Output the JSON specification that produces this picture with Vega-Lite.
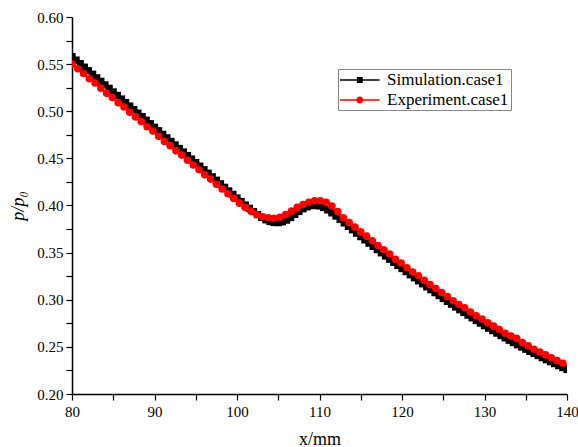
{
  "$schema": "https://vega.github.io/schema/vega-lite/v6.json",
  "width": 495,
  "height": 377,
  "autosize": {"type": "none"},
  "padding": {"left": 72, "top": 17, "right": 11, "bottom": 53},
  "background": "white",
  "config": {
    "view": {"stroke": null},
    "font": "Liberation Serif",
    "axis": {
      "domainColor": "black", "domainWidth": 1.5, "tickColor": "black", "tickWidth": 1.2, "tickSize": 6,
      "grid": false, "labelFont": "Liberation Serif", "labelFontSize": 15, "labelColor": "black",
      "titleFont": "Liberation Serif", "titleFontSize": 18, "titleColor": "black", "titleFontWeight": "normal"
    }
  },
  "datasets": {
    "sim": [
      {"x": 80, "y": 0.558}, {"x": 80.5, "y": 0.5543}, {"x": 81, "y": 0.5505}, {"x": 81.5, "y": 0.5468},
      {"x": 82, "y": 0.543}, {"x": 82.5, "y": 0.5393}, {"x": 83, "y": 0.5355}, {"x": 83.5, "y": 0.5318},
      {"x": 84, "y": 0.528}, {"x": 84.5, "y": 0.5243}, {"x": 85, "y": 0.5205}, {"x": 85.5, "y": 0.5168},
      {"x": 86, "y": 0.513}, {"x": 86.5, "y": 0.5093}, {"x": 87, "y": 0.5055}, {"x": 87.5, "y": 0.5018},
      {"x": 88, "y": 0.498}, {"x": 88.5, "y": 0.4943}, {"x": 89, "y": 0.4905}, {"x": 89.5, "y": 0.4868},
      {"x": 90, "y": 0.483}, {"x": 90.5, "y": 0.4793}, {"x": 91, "y": 0.4755}, {"x": 91.5, "y": 0.4718},
      {"x": 92, "y": 0.468}, {"x": 92.5, "y": 0.4643}, {"x": 93, "y": 0.4605}, {"x": 93.5, "y": 0.4568},
      {"x": 94, "y": 0.453}, {"x": 94.5, "y": 0.4493}, {"x": 95, "y": 0.4455}, {"x": 95.5, "y": 0.4418},
      {"x": 96, "y": 0.438}, {"x": 96.5, "y": 0.4343}, {"x": 97, "y": 0.4305}, {"x": 97.5, "y": 0.4268},
      {"x": 98, "y": 0.423}, {"x": 98.5, "y": 0.4193}, {"x": 99, "y": 0.4155}, {"x": 99.5, "y": 0.4118},
      {"x": 100, "y": 0.408}, {"x": 100.5, "y": 0.4043}, {"x": 101, "y": 0.4005}, {"x": 101.5, "y": 0.397},
      {"x": 102, "y": 0.3935}, {"x": 102.5, "y": 0.3903}, {"x": 103, "y": 0.3873}, {"x": 103.5, "y": 0.3848},
      {"x": 104, "y": 0.383}, {"x": 104.5, "y": 0.382}, {"x": 105, "y": 0.3818}, {"x": 105.5, "y": 0.3827},
      {"x": 106, "y": 0.3845}, {"x": 106.5, "y": 0.3872}, {"x": 107, "y": 0.3905}, {"x": 107.5, "y": 0.3937},
      {"x": 108, "y": 0.3965}, {"x": 108.5, "y": 0.3986}, {"x": 109, "y": 0.3998}, {"x": 109.5, "y": 0.4002},
      {"x": 110, "y": 0.3995}, {"x": 110.5, "y": 0.3978}, {"x": 111, "y": 0.3953}, {"x": 111.5, "y": 0.3922},
      {"x": 112, "y": 0.3888}, {"x": 112.5, "y": 0.3852}, {"x": 113, "y": 0.3815}, {"x": 113.5, "y": 0.3778},
      {"x": 114, "y": 0.3742}, {"x": 114.5, "y": 0.3706}, {"x": 115, "y": 0.367}, {"x": 115.5, "y": 0.3635},
      {"x": 116, "y": 0.36}, {"x": 116.5, "y": 0.3566}, {"x": 117, "y": 0.3532}, {"x": 117.5, "y": 0.3498},
      {"x": 118, "y": 0.3464}, {"x": 118.5, "y": 0.343}, {"x": 119, "y": 0.3397}, {"x": 119.5, "y": 0.3364},
      {"x": 120, "y": 0.3331}, {"x": 120.5, "y": 0.3298}, {"x": 121, "y": 0.3265}, {"x": 121.5, "y": 0.3233},
      {"x": 122, "y": 0.3201}, {"x": 122.5, "y": 0.3169}, {"x": 123, "y": 0.3137}, {"x": 123.5, "y": 0.3106},
      {"x": 124, "y": 0.3075}, {"x": 124.5, "y": 0.3044}, {"x": 125, "y": 0.3013}, {"x": 125.5, "y": 0.2983},
      {"x": 126, "y": 0.2953}, {"x": 126.5, "y": 0.2923}, {"x": 127, "y": 0.2894}, {"x": 127.5, "y": 0.2865},
      {"x": 128, "y": 0.2836}, {"x": 128.5, "y": 0.2808}, {"x": 129, "y": 0.278}, {"x": 129.5, "y": 0.2752},
      {"x": 130, "y": 0.2725}, {"x": 130.5, "y": 0.2698}, {"x": 131, "y": 0.2672}, {"x": 131.5, "y": 0.2646},
      {"x": 132, "y": 0.262}, {"x": 132.5, "y": 0.2595}, {"x": 133, "y": 0.257}, {"x": 133.5, "y": 0.2546},
      {"x": 134, "y": 0.2522}, {"x": 134.5, "y": 0.2498}, {"x": 135, "y": 0.2475}, {"x": 135.5, "y": 0.2452},
      {"x": 136, "y": 0.243}, {"x": 136.5, "y": 0.2408}, {"x": 137, "y": 0.2386}, {"x": 137.5, "y": 0.2364},
      {"x": 138, "y": 0.2343}, {"x": 138.5, "y": 0.2322}, {"x": 139, "y": 0.2301}, {"x": 139.5, "y": 0.228},
      {"x": 140, "y": 0.226}
    ],
    "exp": [
      {"x": 80, "y": 0.55}, {"x": 80.7, "y": 0.545}, {"x": 81.4, "y": 0.54}, {"x": 82.1, "y": 0.5345},
      {"x": 82.8, "y": 0.53}, {"x": 83.5, "y": 0.5245}, {"x": 84.2, "y": 0.519}, {"x": 84.9, "y": 0.5145},
      {"x": 85.6, "y": 0.509}, {"x": 86.3, "y": 0.5045}, {"x": 87, "y": 0.499}, {"x": 87.7, "y": 0.494},
      {"x": 88.4, "y": 0.489}, {"x": 89.1, "y": 0.4835}, {"x": 89.8, "y": 0.479}, {"x": 90.5, "y": 0.4735},
      {"x": 91.2, "y": 0.468}, {"x": 91.9, "y": 0.4635}, {"x": 92.6, "y": 0.458}, {"x": 93.3, "y": 0.4535},
      {"x": 94, "y": 0.448}, {"x": 94.7, "y": 0.443}, {"x": 95.4, "y": 0.438}, {"x": 96.1, "y": 0.4325},
      {"x": 96.8, "y": 0.428}, {"x": 97.5, "y": 0.4225}, {"x": 98.2, "y": 0.4175}, {"x": 98.9, "y": 0.4125},
      {"x": 99.6, "y": 0.4075}, {"x": 100.3, "y": 0.4025}, {"x": 101, "y": 0.398}, {"x": 101.7, "y": 0.394},
      {"x": 102.4, "y": 0.3905}, {"x": 103.1, "y": 0.388}, {"x": 103.8, "y": 0.387}, {"x": 104.5, "y": 0.3865},
      {"x": 105.2, "y": 0.3875}, {"x": 105.9, "y": 0.3905}, {"x": 106.6, "y": 0.394}, {"x": 107.3, "y": 0.398},
      {"x": 108, "y": 0.401}, {"x": 108.7, "y": 0.4035}, {"x": 109.4, "y": 0.405}, {"x": 110.1, "y": 0.405},
      {"x": 110.8, "y": 0.4035}, {"x": 111.5, "y": 0.3995}, {"x": 112.2, "y": 0.3935}, {"x": 112.9, "y": 0.387},
      {"x": 113.6, "y": 0.382}, {"x": 114.3, "y": 0.377}, {"x": 115, "y": 0.372}, {"x": 115.7, "y": 0.3675},
      {"x": 116.4, "y": 0.3625}, {"x": 117.1, "y": 0.3575}, {"x": 117.8, "y": 0.353}, {"x": 118.5, "y": 0.3485},
      {"x": 119.2, "y": 0.343}, {"x": 119.9, "y": 0.339}, {"x": 120.6, "y": 0.334}, {"x": 121.3, "y": 0.3295},
      {"x": 122, "y": 0.3255}, {"x": 122.7, "y": 0.3205}, {"x": 123.4, "y": 0.316}, {"x": 124.1, "y": 0.312},
      {"x": 124.8, "y": 0.3075}, {"x": 125.5, "y": 0.3035}, {"x": 126.2, "y": 0.299}, {"x": 126.9, "y": 0.295},
      {"x": 127.6, "y": 0.2915}, {"x": 128.3, "y": 0.287}, {"x": 129, "y": 0.283}, {"x": 129.7, "y": 0.2795},
      {"x": 130.4, "y": 0.2755}, {"x": 131.1, "y": 0.272}, {"x": 131.8, "y": 0.2685}, {"x": 132.5, "y": 0.2645},
      {"x": 133.2, "y": 0.2615}, {"x": 133.9, "y": 0.259}, {"x": 134.6, "y": 0.2545}, {"x": 135.3, "y": 0.251},
      {"x": 136, "y": 0.2475}, {"x": 136.7, "y": 0.2445}, {"x": 137.4, "y": 0.2415}, {"x": 138.1, "y": 0.2385},
      {"x": 138.8, "y": 0.2355}, {"x": 139.5, "y": 0.2325}
    ]
  },
  "encoding": {
    "x": {
      "field": "x", "type": "quantitative",
      "scale": {"domain": [80, 140], "nice": false, "zero": false},
      "axis": {
        "title": "x/mm", "titlePadding": 11,
        "values": [80, 85, 90, 95, 100, 105, 110, 115, 120, 125, 130, 135, 140],
        "labelExpr": "datum.value % 10 === 0 ? datum.label : ''",
        "labelPadding": 4, "labelFlush": false
      }
    },
    "y": {
      "field": "y", "type": "quantitative",
      "scale": {"domain": [0.2, 0.6], "nice": false, "zero": false},
      "axis": {
        "title": "p/p₀", "titleFontStyle": "italic", "titlePadding": 9,
        "values": [0.2, 0.225, 0.25, 0.275, 0.3, 0.325, 0.35, 0.375, 0.4, 0.425, 0.45, 0.475, 0.5, 0.525, 0.55, 0.575, 0.6],
        "labelExpr": "round(datum.value * 1000) % 50 === 0 ? format(datum.value, '.2f') : ''",
        "labelPadding": 3
      }
    }
  },
  "layer": [
    {
      "data": {"name": "sim"},
      "transform": [{"calculate": "'Simulation.case1'", "as": "series"}],
      "mark": {"type": "line", "strokeWidth": 2, "clip": true},
      "encoding": {
        "color": {
          "field": "series", "type": "nominal",
          "scale": {"domain": ["Simulation.case1", "Experiment.case1"], "range": ["black", "red"]},
          "legend": {
            "title": null, "orient": "none", "legendX": 266, "legendY": 52,
            "strokeColor": "#888888", "padding": 2, "rowPadding": 3,
            "symbolSize": 324, "labelOffset": 29, "labelFontSize": 17, "labelFont": "Liberation Serif", "labelColor": "black",
            "symbolStrokeWidth": 0,
            "encode": {
              "symbols": {
                "update": {
                  "shape": {"signal": "datum.value === 'Simulation.case1' ? 'M-1,-0.09H3.4V0.09H-1Z M0.87,-0.33H1.53V0.33H0.87Z' : 'M-1,-0.09H3.4V0.09H-1Z M1.58,0A0.38,0.38 0 1,1 0.82,0A0.38,0.38 0 1,1 1.58,0Z'"},
                  "fill": {"signal": "scale('color', datum.value)"},
                  "fillOpacity": {"value": 1},
                  "strokeWidth": {"value": 0}
                }
              }
            }
          }
        }
      }
    },
    {
      "data": {"name": "sim"},
      "transform": [{"calculate": "'Simulation.case1'", "as": "series"}],
      "mark": {"type": "point", "shape": "square", "filled": true, "size": 52, "opacity": 1, "clip": true},
      "encoding": {"color": {"field": "series", "type": "nominal", "legend": null}}
    },
    {
      "data": {"name": "exp"},
      "transform": [{"calculate": "'Experiment.case1'", "as": "series"}],
      "mark": {"type": "line", "strokeWidth": 2, "clip": true},
      "encoding": {"color": {"field": "series", "type": "nominal", "legend": null}}
    },
    {
      "data": {"name": "exp"},
      "transform": [{"calculate": "'Experiment.case1'", "as": "series"}],
      "mark": {"type": "point", "shape": "circle", "filled": true, "size": 58, "opacity": 1, "clip": true},
      "encoding": {"color": {"field": "series", "type": "nominal", "legend": null}}
    }
  ]
}
